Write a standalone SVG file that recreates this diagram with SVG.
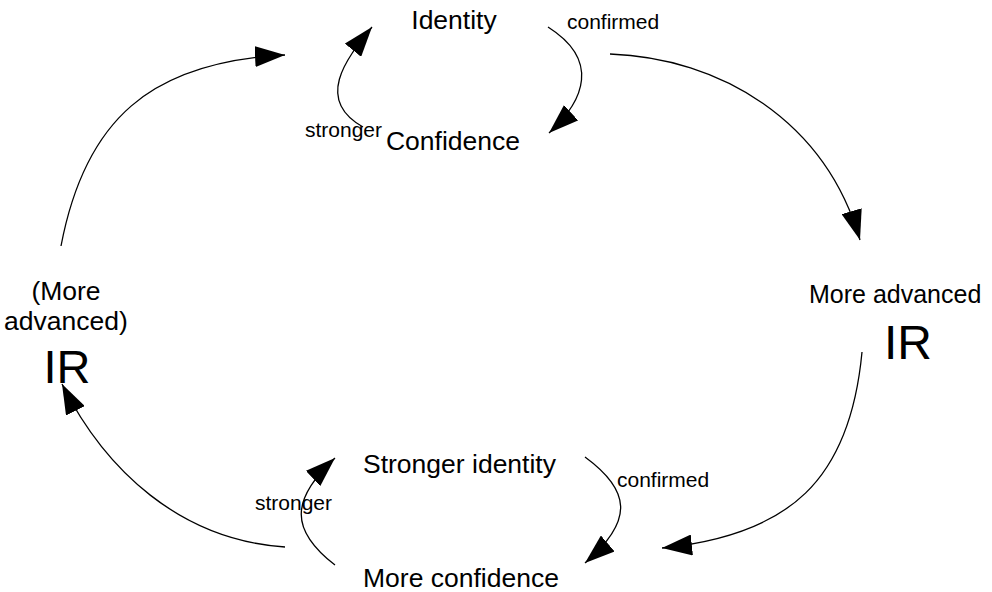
<svg xmlns="http://www.w3.org/2000/svg" width="992" height="592" viewBox="0 0 992 592">
  <style>
    text { font-family: "Liberation Sans", Arial, sans-serif; fill: #000; }
    .node { font-size: 26.5px; }
    .lbl { font-size: 21px; }
    .big { font-size: 47px; }
    .edge { fill: none; stroke: #000; stroke-width: 1.3; marker-end: url(#arr); }
  </style>
  <defs>
    <marker id="arr" markerUnits="userSpaceOnUse" markerWidth="30" markerHeight="21" refX="30" refY="10.5" orient="auto">
      <path d="M0,0 L30,10.5 L0,21 z" fill="#000"/>
    </marker>
  </defs>
  <rect width="992" height="592" fill="#fff"/>

  <g id="connectors">
    <path class="edge" d="M61,246 C 85,120 150,62 285,55"/>
    <path class="edge" d="M610,54 C 720,58 825,120 860,240"/>
    <path class="edge" d="M862,352 C 850,480 790,535 662,548"/>
    <path class="edge" d="M285,547 C 180,540 105,470 62,384"/>
    <path class="edge" d="M363,127 C 315,100 345,60 372,27"/>
    <path class="edge" d="M548,27 C 600,60 585,100 549,133"/>
    <path class="edge" d="M335,565 C 290,530 290,500 335,458"/>
    <path class="edge" d="M585,457 C 630,490 635,520 585,563"/>
  </g>

  <g id="edge-labels">
    <text class="lbl" x="567" y="29">confirmed</text>
    <text class="lbl" x="305" y="137">stronger</text>
    <text class="lbl" x="617" y="487">confirmed</text>
    <text class="lbl" x="255" y="510">stronger</text>
  </g>

  <g id="identity"><text class="node" x="454" y="29" text-anchor="middle">Identity</text></g>
  <g id="confidence"><text class="node" x="453" y="150" text-anchor="middle">Confidence</text></g>
  <g id="more-advanced-ir">
    <text class="node" x="809" y="303" style="font-size:25px">More advanced</text>
    <text class="big" x="908" y="359" text-anchor="middle" style="font-size:48px">IR</text>
  </g>
  <g id="stronger-identity"><text class="node" x="363" y="473">Stronger identity</text></g>
  <g id="more-confidence"><text class="node" x="363" y="587">More confidence</text></g>
  <g id="left-ir">
    <text class="node" x="66" y="300" text-anchor="middle">(More</text>
    <text class="node" x="66" y="330" text-anchor="middle">advanced)</text>
    <text class="big" x="67" y="383" text-anchor="middle">IR</text>
  </g>
</svg>
